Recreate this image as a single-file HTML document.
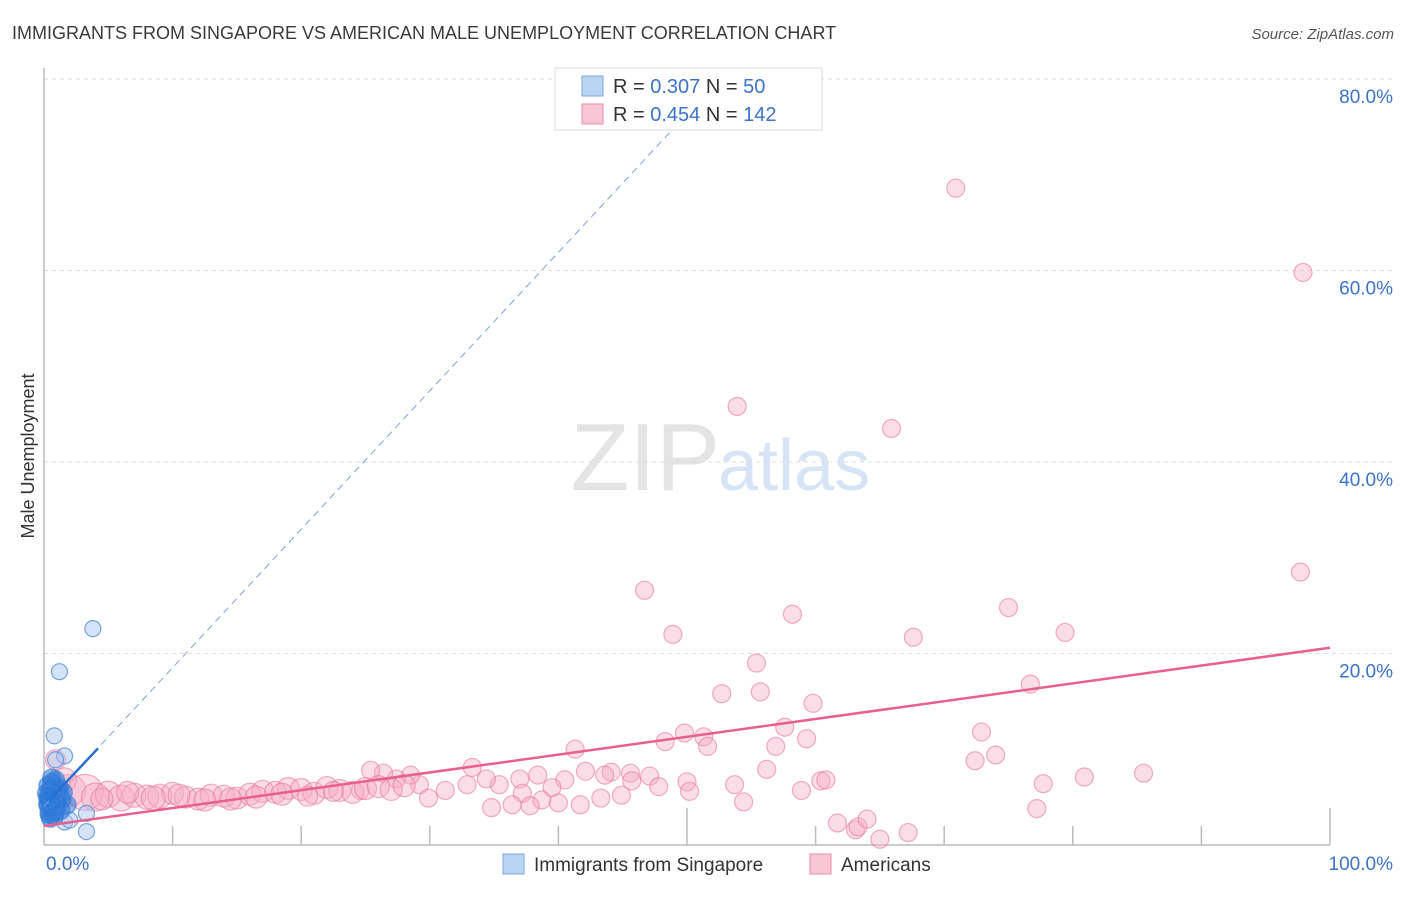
<!DOCTYPE html>
<html><head><meta charset="utf-8"><style>
body{margin:0;background:#fff;font-family:"Liberation Sans",sans-serif}
svg text{font-family:"Liberation Sans",sans-serif}
</style></head><body>
<svg id="chart" width="1406" height="892" xmlns="http://www.w3.org/2000/svg">
<text x="12" y="39" font-size="18" fill="#3a3a3a">IMMIGRANTS FROM SINGAPORE VS AMERICAN MALE UNEMPLOYMENT CORRELATION CHART</text>
<text x="1394" y="39" font-size="15" fill="#555" font-style="italic" text-anchor="end">Source: ZipAtlas.com</text>
<text x="720" y="490" font-size="96" fill="#e4e4e4" text-anchor="end" font-family="Liberation Serif">ZIP</text>
<text x="718" y="490" font-size="72" fill="#d6e4f5">atlas</text>
<text transform="translate(34,456) rotate(-90)" font-size="18" fill="#333" text-anchor="middle">Male Unemployment</text>
<g id="grid"></g><g id="axes"></g><g id="pink"></g><g id="blue"></g><g id="lines"></g>
<g>
<rect x="555" y="68" width="267" height="62" fill="#fff" stroke="#ddd"/>
<rect x="582" y="76" width="21" height="20" fill="#b9d3f3" stroke="#7aa7e0"/>
<rect x="582" y="104" width="21" height="20" fill="#f9c6d6" stroke="#ec8aa8"/>
<text x="613" y="93" font-size="20" fill="#333">R = <tspan fill="#3b73c9">0.307</tspan>   N = <tspan fill="#3b73c9"> 50</tspan></text>
<text x="613" y="121" font-size="20" fill="#333">R = <tspan fill="#3b73c9">0.454</tspan>   N = <tspan fill="#3b73c9">142</tspan></text>
</g>
<g>
<rect x="503" y="854" width="21" height="20" fill="#b9d3f3" stroke="#7aa7e0"/>
<text x="534" y="871" font-size="19" fill="#333">Immigrants from Singapore</text>
<rect x="810" y="854" width="21" height="20" fill="#f9c6d6" stroke="#ec8aa8"/>
<text x="841" y="871" font-size="19" fill="#333">Americans</text>
</g>
</svg>
<script>
const yTicks=[20,40,60,80];
const xTickLabels=["0.0%","100.0%"];
const pinkX=[70.9,97.9,53.9,65.9,97.7,46.7,75.0,58.2,48.9,67.6,79.4,55.4,52.7,55.7,76.7,59.8,72.9,57.6,49.8,51.3,48.3,59.3,41.3,51.6,56.9,74.0,72.4,33.3,85.5,80.9,77.7,42.1,44.1,45.6,47.1,50.0,53.7,56.2,60.4,60.8,50.2,47.8,45.7,43.6,40.5,38.4,37.0,35.4,34.4,32.9,31.2,29.2,28.5,27.4,26.4,25.4,24.6,39.5,37.2,38.7,40.0,41.7,43.3,44.9,54.4,58.9,77.2,34.8,36.4,37.8,29.9,61.7,63.1,63.3,64.0,65.0,67.2,2.0,0.9,1.6,3.2,4,5,6,7,8,9,10,11,12,13,14,15,16,17,18,19,20,21,22,23,24,25,26,27,28,4.5,6.5,8.5,10.5,12.5,14.5,16.5,18.5,20.5,22.5];
const pinkY=[68.6,59.8,45.8,43.5,28.5,26.6,24.8,24.1,22.0,21.7,22.2,19.0,15.8,16.0,16.8,14.8,11.8,12.3,11.7,11.3,10.8,11.1,10.0,10.3,10.3,9.4,8.8,8.1,7.5,7.1,6.4,7.7,7.6,7.5,7.2,6.6,6.3,7.9,6.7,6.8,5.6,6.1,6.7,7.3,6.8,7.3,6.9,6.3,6.9,6.3,5.7,6.3,7.3,6.9,7.5,7.8,5.7,6.0,5.4,4.7,4.4,4.2,4.9,5.2,4.5,5.7,3.8,3.9,4.2,4.1,4.9,2.3,1.6,1.9,2.7,0.6,1.3,5.7,8.9,6.8,5.5,5.0,5.3,4.9,5.2,5.0,5.1,5.4,5.0,4.8,5.2,5.1,4.9,5.3,5.6,5.5,5.9,5.8,5.4,6.0,5.7,5.5,5.9,6.1,5.8,6.2,4.8,5.5,4.9,5.2,4.7,4.8,5.0,5.3,5.1,5.6];
const pinkR=[9,9,9,9,9,9,9,9,9,9,9,9,9,9,9,9,9,9,9,9,9,9,9,9,9,9,9,9,9,9,9,9,9,9,9,9,9,9,9,9,9,9,9,9,9,9,9,9,9,9,9,9,9,9,9,9,9,9,9,9,9,9,9,9,9,9,9,9,9,9,9,9,9,9,9,9,9,16,10,12,18,14,13,13,12,12,12,11,11,11,11,11,11,11,11,11,11,11,11,11,11,11,11,11,11,11,11,11,12,11,11,11,11,11,10,10,10,10];
const blueX=[3.8,1.2,0.8,1.6,0.9,3.3,3.3,1.6,2.0,0.3,0.5,0.7,1.0,1.2,1.4,0.4,0.6,0.8,1.1,0.3,0.5,0.9,1.3,0.6,0.4,0.8,1.0,0.2,0.5,0.7,1.5,1.8,0.3,0.6,0.9,0.4,1.2,0.7,0.5,1.0,0.3,0.8,0.6,1.1,0.4,0.9,0.5,0.7,0.3,0.6];
const blueY=[22.6,18.1,11.4,9.3,8.9,3.3,1.4,2.4,2.6,5.0,4.5,5.5,4.0,6.0,4.8,3.5,6.5,3.0,5.2,4.2,5.8,4.4,3.6,7.0,3.2,5.0,4.6,5.4,2.8,4.0,5.5,4.2,6.2,3.8,3.4,4.9,5.8,4.7,5.1,3.9,4.3,5.6,4.1,4.5,5.3,6.8,3.7,4.4,4.8,5.2];
const pinkLine=[[0,2.0],[100,20.6]];
const blueSolid=[[0.5,4.8],[4.2,10.1]];
const blueDash=[[0,4.06],[51,77.8]];
const X0=44,X1=1330,Y0=845,PY=9.575;
const sx=v=>X0+(X1-X0)*v/100, sy=v=>Y0-v*PY;
const NS="http://www.w3.org/2000/svg";
function mk(t,a,p){const e=document.createElementNS(NS,t);for(const k in a)e.setAttribute(k,a[k]);document.getElementById(p).appendChild(e);return e;}
yTicks.forEach(v=>{
 const l=mk('line',{x1:X0,x2:1395,y1:sy(v),y2:sy(v),stroke:'#ddd','stroke-dasharray':'4,4'},'grid');
 
 
 const t=mk('text',{x:1393,y:sy(v)+24,'font-size':19,fill:'#3b73c9','text-anchor':'end'},'grid');
 t.textContent=v.toFixed(1)+'%';
 
 
});
mk('line',{x1:X0,x2:X0,y1:68,y2:Y0,stroke:'#bbb','stroke-width':1.5},'axes');
mk('line',{x1:X0,x2:X1,y1:Y0,y2:Y0,stroke:'#bbb','stroke-width':1.5},'axes');
for(let i=1;i<=10;i++){
 const tk=mk('line',{x1:sx(i*10),x2:sx(i*10),y1:(i==5||i==10)?808:826,y2:Y0,stroke:'#bbb','stroke-width':1.5},'axes');
 
 
}
const t0=mk('text',{x:46,y:870,'font-size':19,fill:'#3b73c9'},'axes');t0.textContent=xTickLabels[0];

const t1=mk('text',{x:1393,y:870,'font-size':19,fill:'#3b73c9','text-anchor':'end'},'axes');t1.textContent=xTickLabels[1];

pinkX.forEach((x,i)=>{
 const c=mk('circle',{cx:sx(x),cy:sy(pinkY[i]),r:pinkR[i],fill:'rgba(246,170,196,0.4)',stroke:'rgba(232,120,158,0.6)','stroke-width':1.2},'pink');
 
 
});
blueX.forEach((x,i)=>{
 const c=mk('circle',{cx:sx(x),cy:sy(blueY[i]),r:i<9?8:9,fill:i<9?'rgba(170,200,240,0.5)':'rgba(40,120,220,0.55)',stroke:'rgba(70,130,210,0.7)','stroke-width':1.2},'blue');
 
 
});
const pl=mk('line',{x1:sx(pinkLine[0][0]),y1:sy(pinkLine[0][1]),x2:sx(pinkLine[1][0]),y2:sy(pinkLine[1][1]),stroke:'#e8608e','stroke-width':2.5},'lines');


const bd=mk('line',{x1:sx(blueDash[0][0]),y1:sy(blueDash[0][1]),x2:sx(blueDash[1][0]),y2:sy(blueDash[1][1]),stroke:'#7aa3dc','stroke-width':1,'stroke-dasharray':'7,5'},'lines');


const bs=mk('line',{x1:sx(blueSolid[0][0]),y1:sy(blueSolid[0][1]),x2:sx(blueSolid[1][0]),y2:sy(blueSolid[1][1]),stroke:'#2a6fd0','stroke-width':2.5},'lines');


</script>
</body></html>
